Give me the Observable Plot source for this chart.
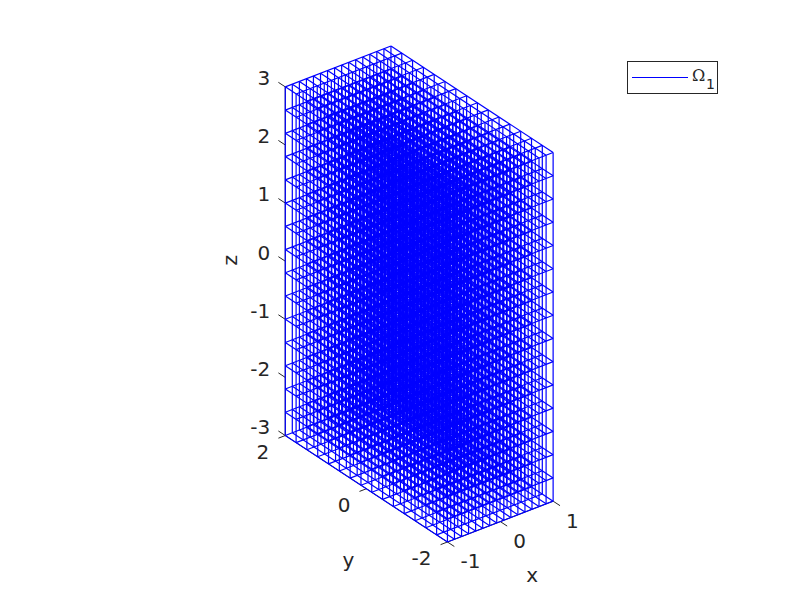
<!DOCTYPE html>
<html>
<head>
<meta charset="utf-8">
<script src="https://cdn.jsdelivr.net/npm/d3@7"></script>
<script src="https://cdn.jsdelivr.net/npm/@observablehq/plot@0.6"></script>
<style>
html,body{margin:0;padding:0;background:#fff}
#wrap{position:relative;width:810px;height:608px;overflow:hidden}
#wrap svg{display:block}
#legend{position:absolute;left:627px;top:61px;width:89px;height:31px;border:1px solid #262626;background:#fff;box-sizing:content-box}
#legend .key{position:absolute;left:4px;top:15px;width:56px;height:1px;background:#0000ff}
#legend .omega{position:absolute;left:64px;top:5px;font:16px "DejaVu Serif",serif;color:#262626;line-height:18px}
#legend .sub{position:absolute;left:78px;top:14px;font:14px "DejaVu Sans",sans-serif;color:#262626;line-height:16px}
</style>
</head>
<body>
<div id="wrap">
<div id="legend"><div class="key"></div><span class="omega">Ω</span><span class="sub">1</span></div>
</div>
<script>
// Mesh nodes along each axis
const xNodes = [-1,-0.867,-0.733,-0.6,-0.467,-0.333,-0.2,-0.067,0.067,0.2,0.333,0.467,0.6,0.733,0.867,1];
const yNodes = [-2,-1.733,-1.467,-1.2,-0.933,-0.667,-0.4,-0.133,0.133,0.4,0.667,0.933,1.2,1.467,1.733,2];
const zNodes = [-3,-2.6,-2.2,-1.8,-1.4,-1,-0.6,-0.2,0.2,0.6,1,1.4,1.8,2.2,2.6,3];
// Ticks
const xTicks = [-1,0,1];
const yTicks = [-2,0,2];
const zTicks = [-3,-2,-1,0,1,2,3];
// Default 3-D view
const azimuth = -37.5, elevation = 30;
const textColor = "#262626";
const wireColor = "#0000ff";
const fontSize = 20;

const a = azimuth*Math.PI/180, e = elevation*Math.PI/180;
const U = (x,y) => Math.cos(a)*x + Math.sin(a)*y;
const V = (x,y,z) => -Math.sin(e)*Math.sin(a)*x + Math.sin(e)*Math.cos(a)*y + Math.cos(e)*z;
const seg = (p,q) => ({x1:U(p[0],p[1]), y1:V(...p), x2:U(q[0],q[1]), y2:V(...q)});

const [x0,x1] = d3.extent(xNodes), [y0,y1] = d3.extent(yNodes), [z0,z1] = d3.extent(zNodes);

const wire = [];
for (const j of yNodes) for (const k of zNodes) wire.push(seg([x0,j,k],[x1,j,k]));
for (const i of xNodes) for (const k of zNodes) wire.push(seg([i,y0,k],[i,y1,k]));
for (const i of xNodes) for (const j of yNodes) wire.push(seg([i,j,z0],[i,j,z1]));

const axes = [
  seg([x0,y0,z0],[x1,y0,z0]),
  seg([x0,y0,z0],[x0,y1,z0]),
  seg([x0,y1,z0],[x0,y1,z1])
];
const tickLenX = 0.13, tickLenY = 0.17;
const ticks = [
  ...xTicks.map(t => seg([t,y0,z0],[t,y0-tickLenY,z0])),
  ...yTicks.map(t => seg([x0,t,z0],[x0-tickLenX,t,z0])),
  ...zTicks.map(t => seg([x0,y1,t],[x0,y1+tickLenY,t]))
];
const pt = (p,label) => ({x:U(p[0],p[1]), y:V(...p), label:String(label)});
const xLab = xTicks.map(t => pt([t,y0,z0],t));
const yLab = yTicks.map(t => pt([x0,t,z0],t));
const zLab = zTicks.map(t => pt([x0,y1,t],t));

const kx = 66.6, ky = 67.1, cx = 418.7, cy = 293.5;
const chart = Plot.plot({
  width: 810, height: 608,
  marginLeft: 0, marginRight: 0, marginTop: 0, marginBottom: 0,
  axis: null,
  x: {domain: [-cx/kx, (810-cx)/kx], range: [0,810]},
  y: {domain: [-(608-cy)/ky, cy/ky], range: [608,0]},
  style: {fontFamily: "DejaVu Sans", background: "#fff"},
  marks: [
    Plot.link(axes, {x1:"x1",y1:"y1",x2:"x2",y2:"y2", stroke:textColor, strokeWidth:1}),
    Plot.link(ticks, {x1:"x1",y1:"y1",x2:"x2",y2:"y2", stroke:textColor, strokeWidth:1}),
    Plot.link(wire, {x1:"x1",y1:"y1",x2:"x2",y2:"y2", stroke:wireColor, strokeWidth:1.2}),
    Plot.text(zLab, {x:"x",y:"y",text:"label",textAnchor:"end",dx:-15,dy:-8,fontSize,fill:textColor}),
    Plot.text(yLab, {x:"x",y:"y",text:"label",textAnchor:"end",dx:-16,dy:17,fontSize,fill:textColor}),
    Plot.text(xLab, {x:"x",y:"y",text:"label",textAnchor:"start",dx:13,dy:20,fontSize,fill:textColor}),
    Plot.text([pt([0,y0,z0],"x")], {x:"x",y:"y",text:"label",dx:32,dy:54,fontSize,fill:textColor}),
    Plot.text([pt([x0,0,z0],"y")], {x:"x",y:"y",text:"label",dx:-18,dy:72,fontSize,fill:textColor}),
    Plot.text([pt([x0,y1,0],"z")], {x:"x",y:"y",text:"label",dx:-55,dy:-1,rotate:-90,fontSize,fill:textColor})
  ]
});
document.getElementById("wrap").prepend(chart);
</script>
</body>
</html>
